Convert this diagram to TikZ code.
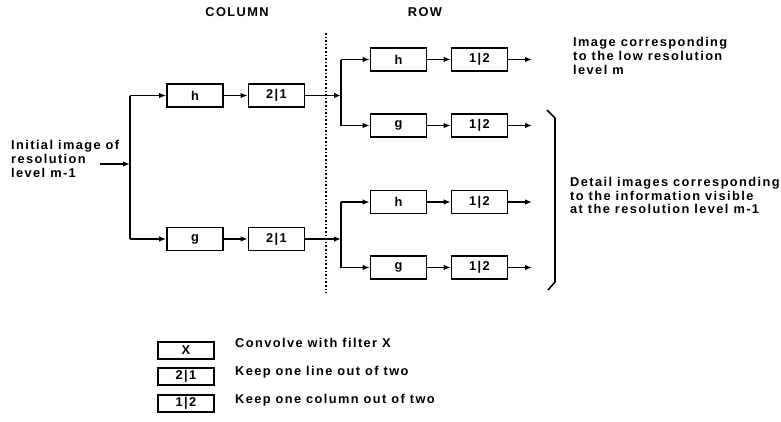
\documentclass[tikz,border=0pt]{standalone}
\usepackage{fontspec}
\setmainfont{Liberation Sans}[LetterSpace=11]
\usetikzlibrary{arrows.meta}
\begin{document}
\begin{tikzpicture}[x=1pt,y=-1pt,
  every node/.style={font=\fontsize{12.8}{13.8}\selectfont\bfseries, inner sep=0pt},
  blk/.style={draw, line width=1.7pt, minimum width=56pt, minimum height=23pt},
  lgd/.style={draw, line width=1.7pt, minimum width=56pt, minimum height=17pt},
  txt/.style={align=left, anchor=west},
  conn/.style={line width=1.6pt},
  arr/.style={conn, -{Latex[length=7pt,width=5.5pt]}}]
\useasboundingbox (0,0) rectangle (781,421);
% headers
\node (colhdr) at (237,12) {COLUMN};
\node (rowhdr) at (425,12) {ROW};
% separator
\coordinate (sepT) at (326,33);
\coordinate (sepB) at (326,293);
\draw[line width=1.6pt, dotted] (sepT) -- (sepB);
% input
\node[txt] (input) at (11,159) {Initial image of\\resolution\\level m-1};
\coordinate (inS) at (100,164);
\coordinate (sp1) at (130,164);
\coordinate (sp1T) at (130,95.5);
\coordinate (sp1B) at (130,239);
% column boxes
\node[blk] (ch) at (195,95.5) {h};
\node[blk] (cd1) at (276.5,95.5) {2|1};
\node[blk] (cg) at (195,239) {g};
\node[blk] (cd2) at (276.5,239) {2|1};
% row boxes
\node[blk] (rh1) at (398.5,59.5) {h};
\node[blk] (rd1) at (479.5,59.5) {1|2};
\node[blk] (rg1) at (398.5,125.5) {g};
\node[blk] (rd2) at (479.5,125.5) {1|2};
\node[blk] (rh2) at (398.5,202) {h};
\node[blk] (rd3) at (479.5,202) {1|2};
\node[blk] (rg2) at (398.5,267.5) {g};
\node[blk] (rd4) at (479.5,267.5) {1|2};
% column connectors
\draw[arr] (inS) -- (sp1);
\draw[conn] (sp1T) -- (sp1B);
\draw[arr] (sp1T) -- (ch.west);
\draw[arr] (sp1B) -- (cg.west);
\draw[arr] (ch) -- (cd1);
\draw[arr] (cg) -- (cd2);
% row split 1
\coordinate (sp2) at (341,95.5);
\coordinate (sp2T) at (341,59.5);
\coordinate (sp2B) at (341,125.5);
\draw[arr] (cd1.east) -- (sp2);
\draw[conn] (sp2T) -- (sp2B);
\draw[arr] (sp2T) -- (rh1.west);
\draw[arr] (sp2B) -- (rg1.west);
% row split 2
\coordinate (sp3) at (341,239);
\coordinate (sp3T) at (341,202);
\coordinate (sp3B) at (341,267.5);
\draw[arr] (cd2.east) -- (sp3);
\draw[conn] (sp3T) -- (sp3B);
\draw[arr] (sp3T) -- (rh2.west);
\draw[arr] (sp3B) -- (rg2.west);
% row internal
\draw[arr] (rh1) -- (rd1);
\draw[arr] (rg1) -- (rd2);
\draw[arr] (rh2) -- (rd3);
\draw[arr] (rg2) -- (rd4);
% outputs
\coordinate (o1) at (532,59.5);
\coordinate (o2) at (532,125.5);
\coordinate (o3) at (532,202);
\coordinate (o4) at (532,267.5);
\draw[arr] (rd1.east) -- (o1);
\draw[arr] (rd2.east) -- (o2);
\draw[arr] (rd3.east) -- (o3);
\draw[arr] (rd4.east) -- (o4);
% right texts
\node[txt] (lowres) at (573,56) {Image corresponding\\to the low resolution\\level m};
\node[txt] (detail) at (570,195.5) {Detail images corresponding\\to the information visible\\at the resolution level m-1};
% bracket
\coordinate (b1) at (547,110);
\coordinate (b2) at (555,118);
\coordinate (b3) at (555,282);
\coordinate (b4) at (548,290);
\draw[line width=1.6pt] (b1) -- (b2) -- (b3) -- (b4);
% legend
\node[lgd] (lx) at (186,350.5) {X};
\node[lgd] (l21) at (186,376.5) {2|1};
\node[lgd] (l12) at (186,403.5) {1|2};
\node[txt] (tx) at (235,343) {Convolve with filter X};
\node[txt] (t21) at (235,372) {Keep one line out of two};
\node[txt] (t12) at (235,400) {Keep one column out of two};
\end{tikzpicture}
\end{document}
